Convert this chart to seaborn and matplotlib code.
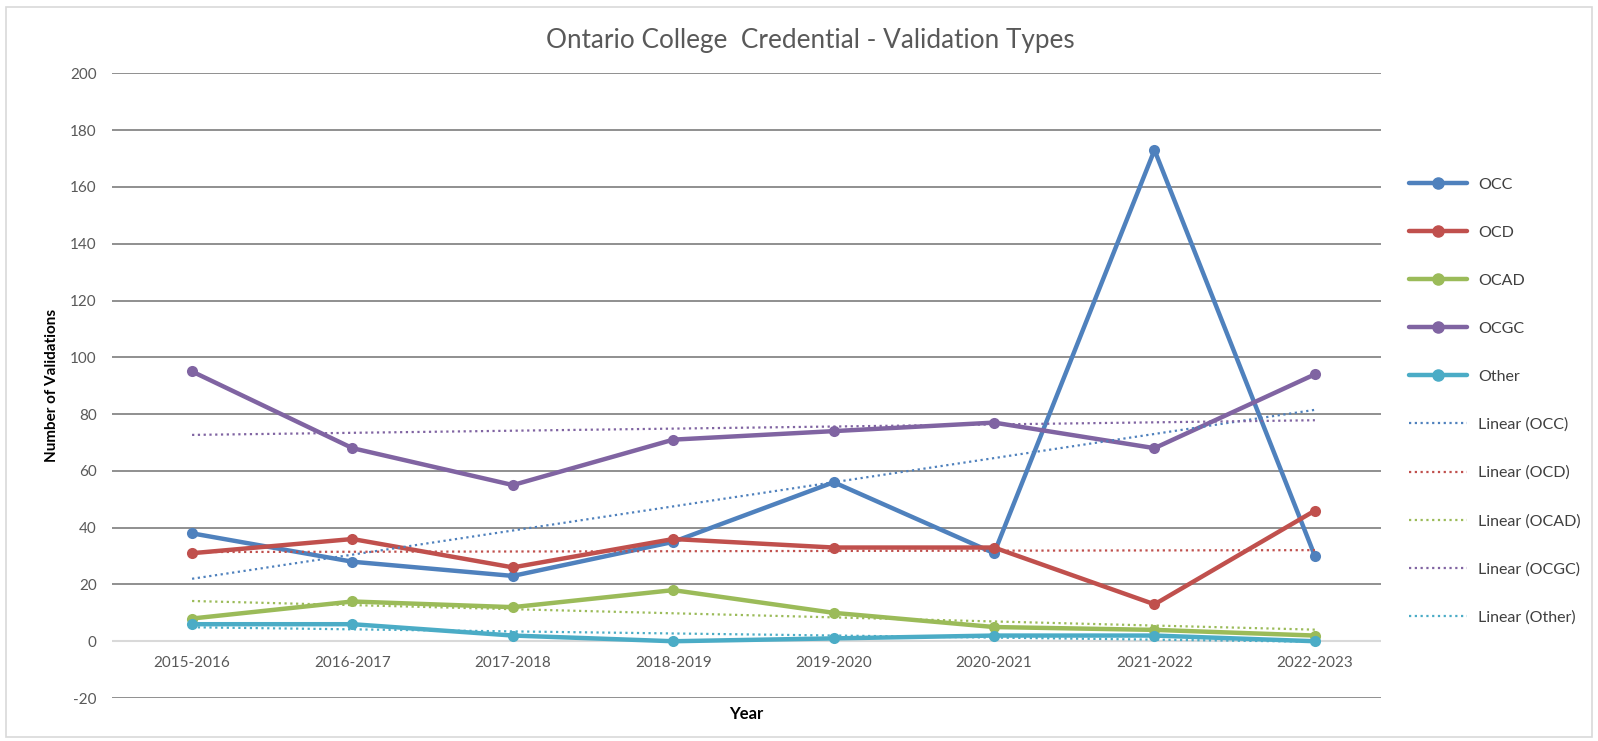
import pandas as pd
import numpy as np
import seaborn as sns
import matplotlib.pyplot as plt
from matplotlib.patches import Rectangle

# ------------------ Data ------------------
years = ["2015-2016", "2016-2017", "2017-2018", "2018-2019",
         "2019-2020", "2020-2021", "2021-2022", "2022-2023"]
occ = [38, 28, 23, 35, 56, 31, 173, 30]
ocd = [31, 36, 26, 36, 33, 33, 13, 46]
ocad = [8, 14, 12, 18, 10, 5, 4, 2]
ocgc = [95, 68, 55, 71, 74, 77, 68, 94]
other = [6, 6, 2, 0, 1, 2, 2, 0]

series = ["OCC", "OCD", "OCAD", "OCGC", "Other"]
colors = ["#4F81BD", "#C0504D", "#9BBB59", "#8064A2", "#4BACC6"]

df = pd.DataFrame({"Year": years, "OCC": occ, "OCD": ocd, "OCAD": ocad,
                   "OCGC": ocgc, "Other": other})
long_df = df.melt(id_vars="Year", var_name="Type", value_name="Validations")

# ------------------ Plot ------------------
sns.set_style("white")
plt.rcParams["font.family"] = ["Lato", "DejaVu Sans"]
plt.rcParams["axes.unicode_minus"] = False

fig = plt.figure(figsize=(15.98, 7.41), dpi=100)
ax = fig.add_axes([0.070, 0.058, 0.794, 0.843])

sns.lineplot(data=long_df, x="Year", y="Validations", hue="Type",
             hue_order=series, palette=colors, marker="o", markersize=8,
             markeredgewidth=0, linewidth=3.2, sort=False, ax=ax, legend=False)

# linear trend lines
x = np.arange(len(years))
for name, col in zip(series, colors):
    k, b = np.polyfit(x, df[name], 1)
    ax.plot(x, k * x + b, linestyle=(0, (1, 1.6)), color=col, linewidth=1.6)

ax.set_xlim(-0.5, len(years) - 0.59)
ax.set_ylim(-20, 200)
ax.set_yticks(range(-20, 201, 20))

ax.grid(False)
for v in range(-20, 201, 20):
    if v == 0:
        ax.axhline(v, color="#D9D9D9", linewidth=1.5, zorder=0)
    else:
        ax.axhline(v, color="#878787", linewidth=1.3, zorder=0)

for s in ax.spines.values():
    s.set_visible(False)

ax.tick_params(axis="both", length=0, colors="#595959", labelsize=11)
ax.tick_params(axis="y", pad=11)
# x tick labels sit just under the zero line
ax.set_xticks(x)
ax.set_xticklabels(years)
ax.tick_params(axis="x", pad=-30)

ax.set_xlabel("Year", fontsize=12, fontweight="bold", color="black", labelpad=6)
ax.set_ylabel("Number of Validations", fontsize=11, fontweight="bold", color="black", labelpad=8)

fig.suptitle("Ontario College  Credential - Validation Types", x=0.507, y=0.962,
             fontsize=18.8, color="#595959")

# legend
handles = []
labels = []
for name, col in zip(series, colors):
    h, = ax.plot([], [], color=col, linewidth=3.2, marker="o", markersize=8)
    handles.append(h)
    labels.append(name)
for name, col in zip(series, colors):
    h, = ax.plot([], [], color=col, linewidth=1.6, linestyle=(0, (1, 1.6)))
    handles.append(h)
    labels.append("Linear (" + name + ")")
leg = fig.legend(handles, labels, loc="upper left", bbox_to_anchor=(0.873, 0.78),
                 frameon=False, fontsize=11.5, labelspacing=2.12, handlelength=3.6,
                 handletextpad=0.7, labelcolor="#404040")

fig.patches.append(Rectangle((0.004, 0.006), 0.992, 0.985, transform=fig.transFigure,
                             fill=False, edgecolor="#D9D9D9", linewidth=1.2))

fig.savefig("out.png", dpi=100)
